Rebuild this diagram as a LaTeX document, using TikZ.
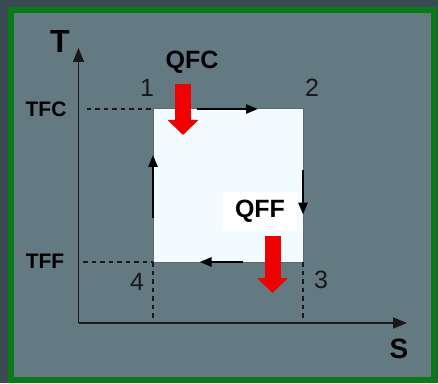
\documentclass[tikz,border=0pt]{standalone}
\usepackage{fontspec}
\setmainfont{Liberation Sans}
\usetikzlibrary{arrows.meta,calc}

\definecolor{outerdark}{RGB}{58,73,84}
\definecolor{panelgray}{RGB}{99,122,130}
\definecolor{framegreen}{RGB}{8,122,22}
\definecolor{cyclefill}{RGB}{240,252,255}
\definecolor{heatred}{RGB}{240,0,0}

\begin{document}
\begin{tikzpicture}[
		x=1pt, y=1pt,
		axis/.style={line width=1.7pt, black!90, -{Triangle[length=14pt,width=11pt]}},
		guide/.style={line width=2.5pt, black!90, dash pattern=on 4.5pt off 4pt},
		edge/.style={line width=1pt, black!60},
		flow/.style={line width=2.5pt, black, -{Triangle[length=12pt,width=9pt]}},
		heat/.style={line width=16pt, heatred, -{Triangle[length=15pt,width=30pt]}},
		tag/.style={font=\bfseries\fontsize{21}{21}\selectfont, text=black},
		heattag/.style={font=\bfseries\fontsize{25}{25}\selectfont, text=black},
		corner/.style={font=\fontsize{25}{25}\selectfont, text=black!90}
		]
		\useasboundingbox (0,0) rectangle (438,383);
		
		% ---------------------------------------------------------
		% Background and panel
		% ---------------------------------------------------------
		\fill[outerdark] (0,0) rectangle (438,383);
		\fill[panelgray] (11,3) rectangle (434,373);
		
		% ---------------------------------------------------------
		% Cycle 1-2-3-4 (T-S diagram)
		% ---------------------------------------------------------
		\coordinate (O) at (78.5,60);
		\coordinate (c1) at (153,274);
		\coordinate (c2) at (303,274);
		\coordinate (c3) at (303,121);
		\coordinate (c4) at (153,121);
		
		\fill[cyclefill] (c4) rectangle (c2);
		\draw[edge] (c1) -- (c2) -- (c3) -- (c4) -- cycle;
		
		% Direction of the cycle
		\draw[flow] ($(c1)!0.29!(c2)$) -- ($(c1)!0.70!(c2)$);
		\draw[flow] ($(c2)!0.40!(c3)$) -- ($(c2)!0.69!(c3)$);
		\draw[flow] ($(c3)!0.40!(c4)$) -- ($(c3)!0.69!(c4)$);
		\draw[flow] ($(c4)!0.29!(c1)$) -- ($(c4)!0.70!(c1)$);
		
		% Corner labels
		\foreach \c/\p/\n in {c1/{-6,21}/1, c2/{9,21}/2, c3/{18,-18}/3, c4/{-16,-20}/4} {
			\node[corner] (lbl\n) at ($(\c)+(\p)$) {\n};
		}
		
		% ---------------------------------------------------------
		% Axes and temperature levels
		% ---------------------------------------------------------
		\node[tag, fill=panelgray, minimum width=66pt, minimum height=36pt] (tfc) at (46,274) {TFC};
		\node[tag] (tff) at (45,122) {TFF};
		
		\coordinate (tEnd) at (78.5,335);
		\coordinate (sEnd) at (407,60);
		\draw[axis] (O) -- (tEnd);
		\draw[axis] (O) -- (sEnd);
		\node[font=\bfseries\fontsize{32}{32}\selectfont] (tlbl) at (60,342) {T};
		\node[font=\bfseries\fontsize{28}{28}\selectfont] (slbl) at (399,34) {S};
		
		\draw[guide, shorten <=8pt] (O |- c1) -- (c1);
		\draw[guide, shorten <=4.5pt] (O |- c4) -- (c4);
		\draw[guide] (c4) -- (O -| c4);
		\draw[guide] (c3) -- (O -| c3);
		
		% ---------------------------------------------------------
		% Heat exchanged
		% ---------------------------------------------------------
		\node[heattag] (qfc) at (192,321) {QFC};
		\coordinate (qfcTop) at (183,299);
		\coordinate (qfcTip) at (183,248);
		\draw[heat] (qfcTop) -- (qfcTip);
		
		\node[heattag, fill=white, minimum width=74pt, minimum height=39pt] (qff) at (260,171.5) {QFF};
		\coordinate (qffTop) at (272.5,147);
		\coordinate (qffTip) at (272.5,90);
		\draw[heat] (qffTop) -- (qffTip);
		
		% Frame on top
		\draw[framegreen, line width=6pt] (11,3) rectangle (434,373);
		
	\end{tikzpicture}
\end{document}
